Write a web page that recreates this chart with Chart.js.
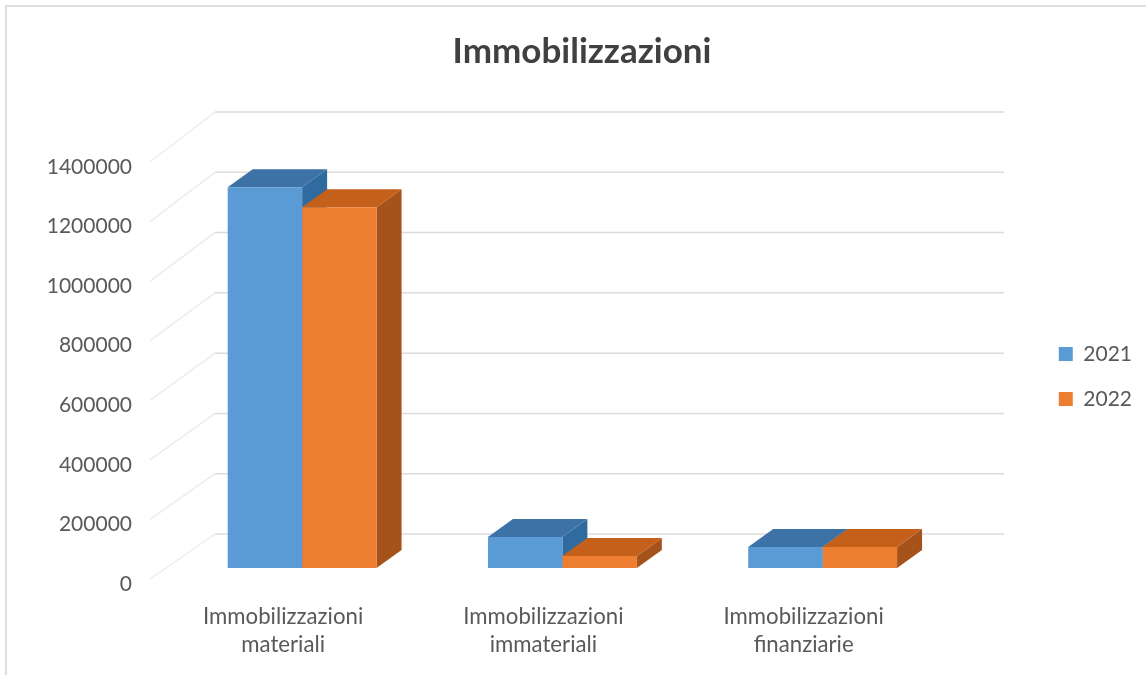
<!DOCTYPE html>
<html><head><meta charset="utf-8">
<style>html,body{margin:0;padding:0;background:#fff}#w{position:relative;width:1146px;height:675px}</style>
<script src="https://cdn.jsdelivr.net/npm/chart.js@4"></script>
</head><body><div id="w"><canvas id="c" width="1146" height="675"></canvas></div>
<script>
const categories = [["Immobilizzazioni","materiali"],["Immobilizzazioni","immateriali"],["Immobilizzazioni","finanziarie"]];
const series2021 = [1263000, 103000, 70000];
const series2022 = [1197000, 40000, 70000];
const tickValues = [0,200000,400000,600000,800000,1000000,1200000,1400000];
const FONT = "Lato, sans-serif";
const PX = {dx:25, dy:-18};
const faces = [{top:'#3C72A6',side:'#2F6B9E'},{top:'#C4601A',side:'#A5521B'}];

const setTicks = s => { s.ticks = tickValues.map(v=>({value:v})); };

const depth3d = {
  id:'depth3d',
  afterLayout(chart){ chart.legend.top += 39; chart.legend.bottom += 39; },
  beforeDatasetsDraw(chart){
    const ctx = chart.ctx, back = chart.scales.yBack, front = chart.scales.y;
    ctx.save();
    tickValues.forEach(v=>{
      const yb = back.getPixelForValue(v), yf = front.getPixelForValue(v)-5;
      ctx.strokeStyle='#ececec'; ctx.lineWidth=1.5;
      ctx.beginPath(); ctx.moveTo(150,yf); ctx.lineTo(215,yb); ctx.stroke();
      ctx.strokeStyle='#dcdcdc';
      ctx.beginPath(); ctx.moveTo(215,yb); ctx.lineTo(1004,yb); ctx.stroke();
    });
    chart.data.datasets.forEach((ds,i)=>{
      chart.getDatasetMeta(i).data.forEach(bar=>{
        const {x,y,base,width} = bar.getProps(['x','y','base','width'],true);
        const l=x-width/2, r=x+width/2;
        ctx.fillStyle=faces[i].side;
        ctx.beginPath(); ctx.moveTo(r,y); ctx.lineTo(r+PX.dx,y+PX.dy); ctx.lineTo(r+PX.dx,base+PX.dy); ctx.lineTo(r,base); ctx.closePath(); ctx.fill();
        ctx.fillStyle=faces[i].top;
        ctx.beginPath(); ctx.moveTo(l,y); ctx.lineTo(l+PX.dx,y+PX.dy); ctx.lineTo(r+PX.dx,y+PX.dy); ctx.lineTo(r,y); ctx.closePath(); ctx.fill();
      });
    });
    ctx.restore();
  },
  afterDraw(chart){
    const ctx = chart.ctx;
    ctx.save(); ctx.strokeStyle='#d4d4d4'; ctx.lineWidth=1.5;
    ctx.beginPath(); ctx.moveTo(6,675); ctx.lineTo(6,6); ctx.lineTo(1146,6); ctx.stroke();
    ctx.restore();
  }
};

new Chart(document.getElementById('c'),{
  type:'bar',
  data:{labels:categories,datasets:[
    {label:'2021',data:series2021,backgroundColor:'#5B9BD5',yAxisID:'yBar',categoryPercentage:0.572,barPercentage:1},
    {label:'2022',data:series2022,backgroundColor:'#ED7D31',yAxisID:'yBar',categoryPercentage:0.572,barPercentage:1}
  ]},
  plugins:[depth3d],
  options:{
    responsive:false,animation:false,
    layout:{padding:{top:0,left:22,right:4,bottom:0}},
    plugins:{
      tooltip:{enabled:false},
      title:{display:true,text:'Immobilizzazioni',color:'#404040',font:{family:FONT,size:35,weight:'bold',lineHeight:1.2},padding:{top:31,bottom:39}},
      legend:{position:'right',labels:{color:'#595959',font:{family:FONT,size:21},boxWidth:14,boxHeight:14,padding:24}}
    },
    scales:{
      x:{grid:{display:false},border:{display:false},
         ticks:{color:'#595959',font:{family:FONT,size:22.2,lineHeight:1.26},labelOffset:-19,padding:10,maxRotation:0,autoSkip:false},
         afterFit(s){s.height=90;}},
      y:{position:'left',min:-3357,max:1584651,grid:{display:false},border:{display:false},
         afterBuildTicks:setTicks,
         ticks:{color:'#595959',font:{family:FONT,size:21},padding:32,callback:v=>String(v)},
         afterFit(s){s.width=150;}},
      yBar:{display:false,min:-56398,max:1512796},
      yBack:{position:'right',min:-169194,max:1400000,grid:{display:false},border:{display:false},
         afterBuildTicks:setTicks,ticks:{display:false},
         afterFit(s){s.width=82;}}
    }
  }
});
</script></body></html>
